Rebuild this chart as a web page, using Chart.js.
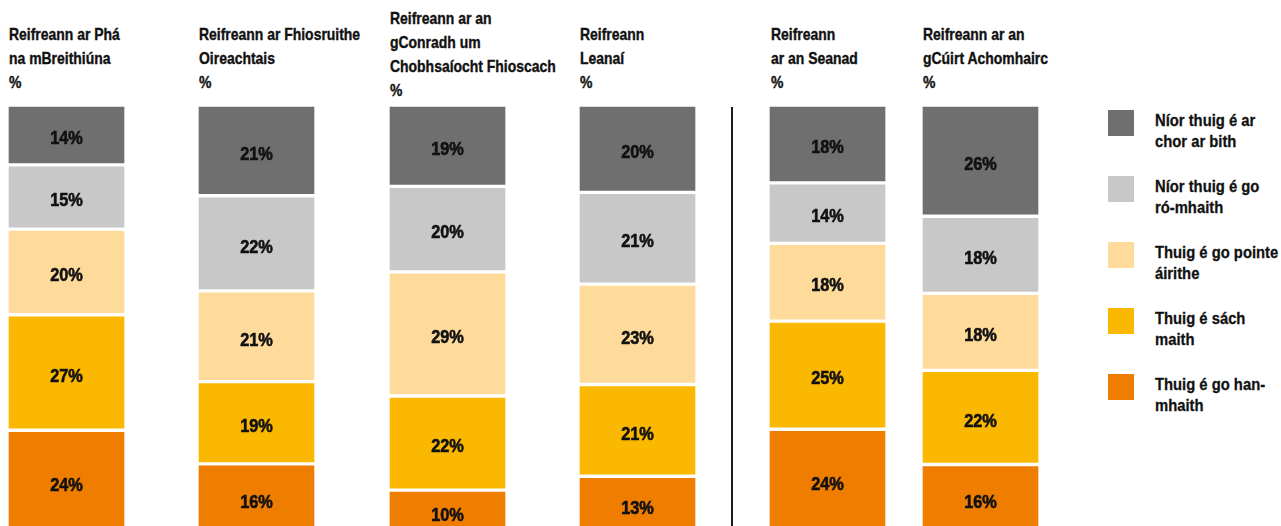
<!DOCTYPE html>
<html>
<head>
<meta charset="utf-8">
<script src="https://cdn.jsdelivr.net/npm/chart.js@4"></script>
<style>
  html, body { margin: 0; padding: 0; background: #fff; overflow: hidden; }
  body { width: 1281px; height: 526px; position: relative;
         font-family: "Liberation Sans Narrow", "Liberation Sans", Arial, sans-serif; color: #111; }
  .head { position: absolute; top: 23px; font-weight: bold; font-size: 17px; line-height: 24px;
          white-space: nowrap; transform: scaleX(0.82); transform-origin: 0 0;
          -webkit-text-stroke: 0.4px #111; }
  .bar { position: absolute; top: 105px; }
  /* column positions */
  .h0 { left: 9px; }   .b0 { left: 7px; }
  .h1 { left: 199px; } .b1 { left: 197px; }
  .h2 { left: 390px; top: 7px; } .b2 { left: 388px; }
  .h3 { left: 580px; } .b3 { left: 578px; }
  .h4 { left: 771px; } .b4 { left: 768px; }
  .h5 { left: 923px; } .b5 { left: 921px; }
  .divider { position: absolute; left: 731px; top: 107px; width: 2px; height: 419px; background: #1c1c1c; }
  #legend { position: absolute; left: 1108px; top: 110px; }
  .item { position: relative; height: 66px; }
  .swatch { position: absolute; left: 0; top: 0; width: 26px; height: 26px; }
  .ltext { position: absolute; left: 47px; top: 0; font-weight: bold; font-size: 17px; line-height: 21px;
           white-space: nowrap; transform: scaleX(0.87); transform-origin: 0 0;
           -webkit-text-stroke: 0.3px #111; }
</style>
</head>
<body>
<div class="divider"></div>
<div id="legend"></div>
<script>
// --- DATOS ---
const TITLES = [
  ['Reifreann ar Phá', 'na mBreithiúna', '%'],
  ['Reifreann ar Fhiosruithe', 'Oireachtais', '%'],
  ['Reifreann ar an', 'gConradh um', 'Chobhsaíocht Fhioscach', '%'],
  ['Reifreann', 'Leanaí', '%'],
  ['Reifreann', 'ar an Seanad', '%'],
  ['Reifreann ar an', 'gCúirt Achomhairc', '%']
];

const SERIES_LABELS = [
  ['Níor thuig é ar', 'chor ar bith'],
  ['Níor thuig é go', 'ró-mhaith'],
  ['Thuig é go pointe', 'áirithe'],
  ['Thuig é sách', 'maith'],
  ['Thuig é go han-', 'mhaith']
];

const notAtAll     = [14, 21, 19, 20, 18, 26];
const notVeryWell  = [15, 22, 20, 21, 14, 18];
const someExtent   = [20, 21, 29, 23, 18, 18];
const quiteWell    = [27, 19, 22, 21, 25, 22];
const veryWell     = [24, 16, 10, 13, 24, 16];

const SERIES = [notAtAll, notVeryWell, someExtent, quiteWell, veryWell];
const COLORS = ['#6f6f6f', '#c8c8c8', '#fedb9a', '#fab800', '#ef7d00'];

// --- ETIQUETAS DENTRO DE LAS BARRAS ---
const valueLabels = {
  id: 'valueLabels',
  afterDatasetsDraw(chart) {
    const ctx = chart.ctx;
    chart.data.datasets.forEach((ds, i) => {
      chart.getDatasetMeta(i).data.forEach((el, j) => {
        const y = (el.y + el.base) / 2 + 4;
        const txt = ds.data[j] + '%';
        ctx.save();
        ctx.translate(el.x, y);
        ctx.scale(0.86, 1); // letra condensada
        ctx.font = 'bold 19px "Liberation Sans Narrow", "Liberation Sans", Arial, sans-serif';
        ctx.fillStyle = '#111';
        ctx.strokeStyle = '#111';
        ctx.lineWidth = 0.6;
        ctx.textAlign = 'center';
        ctx.textBaseline = 'middle';
        ctx.fillText(txt, 0, 0);
        ctx.strokeText(txt, 0, 0);
        ctx.restore();
      });
    });
  }
};

// --- GRÁFICOS ---
TITLES.forEach((lines, i) => {
  const head = document.createElement('div');
  head.className = 'head h' + i;
  head.innerHTML = lines.join('<br>');
  document.body.appendChild(head);

  const wrap = document.createElement('div');
  wrap.className = 'bar b' + i;
  const canvas = document.createElement('canvas');
  canvas.width = 119;
  canvas.height = 428;
  wrap.appendChild(canvas);
  document.body.appendChild(wrap);

  // cada barra ocupa el 100% (total de la columna)
  const total = SERIES.reduce((sum, arr) => sum + arr[i], 0);

  new Chart(canvas.getContext('2d'), {
    type: 'bar',
    data: {
      labels: [lines.join(' ')],
      datasets: SERIES.map((arr, s) => ({
        label: SERIES_LABELS[s].join(' '),
        data: [arr[i]],
        backgroundColor: COLORS[s],
        borderColor: '#ffffff',
        borderWidth: 2,
        borderSkipped: false,
        barPercentage: 1,
        categoryPercentage: 1
      }))
    },
    options: {
      responsive: false,
      animation: false,
      layout: { padding: 0 },
      scales: {
        x: { stacked: true, display: false },
        y: { stacked: true, display: false, reverse: true, min: 0, max: total }
      },
      plugins: { legend: { display: false }, tooltip: { enabled: false } }
    },
    plugins: [valueLabels]
  });
});

// --- LEYENDA ---
const legend = document.getElementById('legend');
SERIES_LABELS.forEach((lines, s) => {
  const item = document.createElement('div');
  item.className = 'item';
  item.innerHTML = `<div class="swatch" style="background:${COLORS[s]}"></div>` +
                   `<div class="ltext">${lines.join('<br>')}</div>`;
  legend.appendChild(item);
});
</script>
</body>
</html>
